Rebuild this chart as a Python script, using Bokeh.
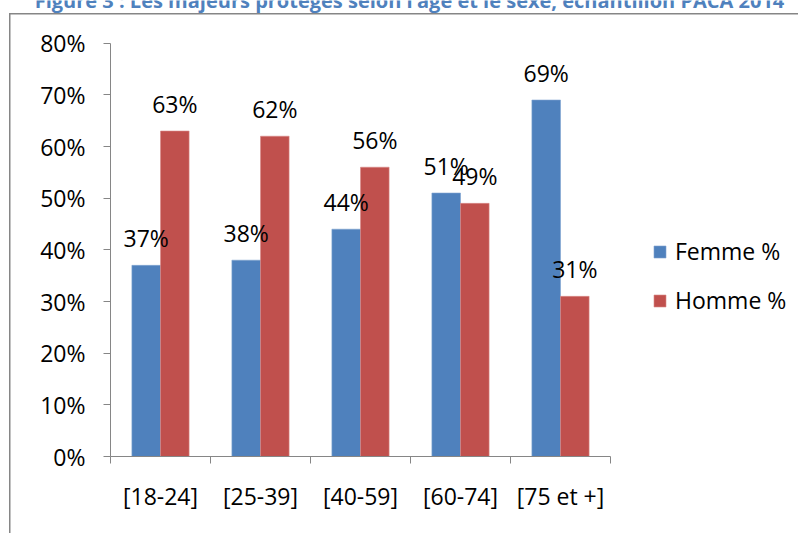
from bokeh.plotting import figure
from bokeh.models import (Range1d, FixedTicker, NumeralTickFormatter, ColumnDataSource,
                          LabelSet, Legend, LegendItem, Label)
from bokeh.transform import dodge
from bokeh.embed import file_html
from bokeh.resources import INLINE
from bokeh.core.properties import value

# ---- data ----
title_text = "Figure 3 : Les majeurs protégés selon l’âge et le sexe, échantillon PACA 2014"
categories = ["[18-24]", "[25-39]", "[40-59]", "[60-74]", "[75 et +]"]
femme = [0.37, 0.38, 0.44, 0.51, 0.69]
homme = [0.63, 0.62, 0.56, 0.49, 0.31]
series_names = ["Femme %", "Homme %"]
series_colors = ["#4F81BD", "#C0504D"]
y_ticks = [0.0, 0.1, 0.2, 0.3, 0.4, 0.5, 0.6, 0.7, 0.8]

FONT = "Open Sans"
FS = "23px"
GRAY = "#868686"

# ---- layout constants (pixels) ----
W, H = 798, 533
X0, Y0 = 110, 456          # pixel position of the axes origin
PX_CAT = 100               # pixels per category
PX_UNIT = 516.6            # pixels per 100 %
FRAME_L, FRAME_T = 9, 12.5  # chart-area border (left and top edges)


def dx(px):
    return (px - X0) / PX_CAT


def dy(py):
    return (Y0 - py) / PX_UNIT


n = len(categories)
centers = [i + 0.5 for i in range(n)]
bounds = [float(i) for i in range(n + 1)]

src = ColumnDataSource(dict(
    x=centers,
    femme=femme,
    homme=homme,
    femme_lbl=[f"{round(v * 100)}%" for v in femme],
    homme_lbl=[f"{round(v * 100)}%" for v in homme],
))

frame_css = {
    "background-color": "white",
    "background-image": f"linear-gradient({GRAY}, {GRAY}), linear-gradient({GRAY}, {GRAY})",
    "background-size": f"1.5px {H}px, {W}px 1.5px",
    "background-position": f"{FRAME_L}px {FRAME_T}px, {FRAME_L}px {FRAME_T}px",
    "background-repeat": "no-repeat",
}

p = figure(width=W, height=H, output_backend="svg", toolbar_location=None,
           x_range=Range1d(dx(0), dx(W)), y_range=Range1d(dy(H), dy(0)),
           min_border=0, background_fill_color=None, border_fill_color=None,
           outline_line_color=None, styles=frame_css)
p.grid.visible = False

bw = 0.286
r1 = p.vbar(x=dodge("x", -bw / 2), top="femme", width=bw, source=src,
            fill_color=series_colors[0], line_color="#7FA3D0", line_width=0.6)
r2 = p.vbar(x=dodge("x", bw / 2), top="homme", width=bw, source=src,
            fill_color=series_colors[1], line_color="#D88A88", line_width=0.6)

for col, off in (("femme", -bw / 2), ("homme", bw / 2)):
    p.add_layout(LabelSet(x=dodge("x", off), y=col, text=col + "_lbl", source=src,
                          y_offset=18, text_align="center", text_baseline="alphabetic",
                          text_font=value(FONT), text_font_size=FS, text_color="black"))

# axes (drawn at the data origin inside the frame)
ya = p.yaxis[0]
ya.fixed_location = 0
ya.bounds = (y_ticks[0], y_ticks[-1])
ya.ticker = FixedTicker(ticks=y_ticks, minor_ticks=[])
ya.formatter = NumeralTickFormatter(format="0%")
ya.axis_line_color = GRAY
ya.major_tick_line_color = GRAY
ya.major_tick_out = 7
ya.major_tick_in = 0
ya.minor_tick_line_color = None
ya.major_label_standoff = 18
ya.major_label_text_font = FONT
ya.major_label_text_font_size = FS
ya.major_label_text_color = "black"

xa = p.xaxis[0]
xa.fixed_location = 0
xa.bounds = (0, n)
xa.ticker = FixedTicker(ticks=centers, minor_ticks=bounds)
xa.major_label_overrides = {c: lab for c, lab in zip(centers, categories)}
xa.axis_line_color = GRAY
xa.major_tick_line_color = None
xa.major_tick_out = 0
xa.major_tick_in = 0
xa.minor_tick_line_color = GRAY
xa.minor_tick_out = 7
xa.minor_tick_in = 0
xa.major_label_standoff = 16
xa.major_label_text_font = FONT
xa.major_label_text_font_size = FS
xa.major_label_text_color = "black"

# legend
legend = Legend(items=[LegendItem(label=series_names[0], renderers=[r1]),
                       LegendItem(label=series_names[1], renderers=[r2])],
                location=(652, H - 316), glyph_width=15, glyph_height=15, label_standoff=8,
                label_height=22, spacing=17, padding=0, margin=0,
                border_line_color=None, background_fill_alpha=0,
                label_text_font=FONT, label_text_font_size=FS, label_text_color="black")
p.add_layout(legend, "center")

# title (its top is cut by the page edge, as in the source)
p.add_layout(Label(x=dx(409), y=dy(0), text=title_text,
                   text_align="center", text_baseline="alphabetic",
                   text_font=FONT, text_font_size="20px", text_font_style="bold",
                   text_color="#4F81BD"))

open("out.html", "w").write(file_html(p, INLINE))
